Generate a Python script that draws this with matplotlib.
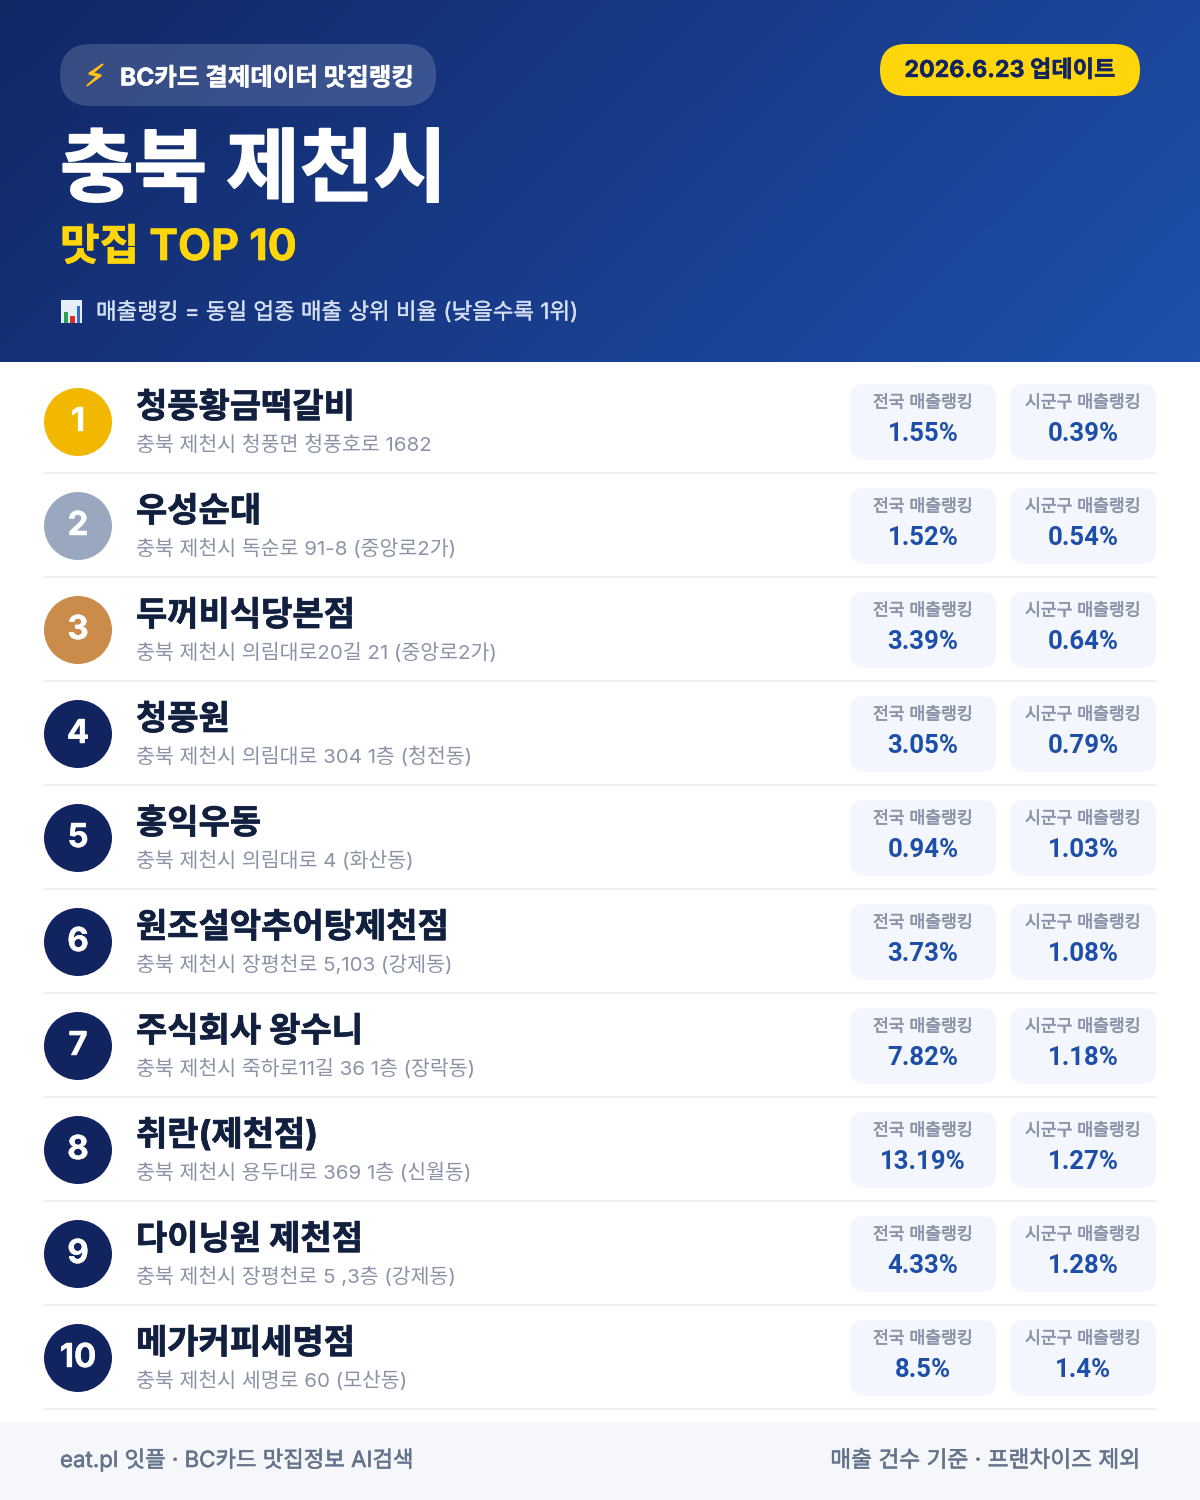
import numpy as np
import matplotlib
matplotlib.use("Agg")
import matplotlib.pyplot as plt
import matplotlib.patheffects as pe
from matplotlib.patches import Circle, FancyBboxPatch, Rectangle

# latin in Inter, hangul falls through to Noto
plt.rcParams['font.family'] = ['Inter', 'Noto Sans CJK KR', 'DejaVu Sans']

ranks = ["1", "2", "3", "4", "5", "6", "7", "8", "9", "10"]
names = ["청풍황금떡갈비", "우성순대", "두꺼비식당본점", "청풍원", "홍익우동",
         "원조설악추어탕제천점", "주식회사 왕수니", "취란(제천점)", "다이닝원 제천점", "메가커피세명점"]
addresses = ["충북 제천시 청풍면 청풍호로 1682",
             "충북 제천시 독순로 91-8 (중앙로2가)",
             "충북 제천시 의림대로20길 21 (중앙로2가)",
             "충북 제천시 의림대로 304 1층 (청전동)",
             "충북 제천시 의림대로 4 (화산동)",
             "충북 제천시 장평천로 5,103 (강제동)",
             "충북 제천시 죽하로11길 36 1층 (장락동)",
             "충북 제천시 용두대로 369 1층 (신월동)",
             "충북 제천시 장평천로 5 ,3층 (강제동)",
             "충북 제천시 세명로 60 (모산동)"]
national = ["1.55%", "1.52%", "3.39%", "3.05%", "0.94%", "3.73%", "7.82%", "13.19%", "4.33%", "8.5%"]
local = ["0.39%", "0.54%", "0.64%", "0.79%", "1.03%", "1.08%", "1.18%", "1.27%", "1.28%", "1.4%"]
circle_colors = ["#F2B800", "#9AA8BF", "#CB8B4B"] + ["#12245F"] * 7


def px(size):
    return size * 0.72


def fat(width, color):
    return [pe.withStroke(linewidth=width, foreground=color)]


fig = plt.figure(figsize=(12, 15), dpi=100)
ax = fig.add_axes([0, 0, 1, 1])
ax.set_xlim(0, 1200)
ax.set_ylim(1500, 0)
ax.axis("off")

# header gradient
xx, yy = np.meshgrid(np.linspace(0, 1, 300), np.linspace(0, 1, 90))
t = (xx * 1200 + yy * 362) / (1200 + 362)
c0 = np.array([0x12, 0x27, 0x66]) / 255
c1 = np.array([0x1E, 0x50, 0xAC]) / 255
img = c0[None, None, :] * (1 - t[..., None]) + c1[None, None, :] * t[..., None]
ax.imshow(img, extent=[0, 1200, 362, 0], aspect="auto", zorder=0)
ax.set_xlim(0, 1200)
ax.set_ylim(1500, 0)


def rbox(x0, y0, x1, y1, r, **kw):
    ax.add_patch(FancyBboxPatch((x0, y0), x1 - x0, y1 - y0,
                                boxstyle=f"round,pad=0,rounding_size={r}",
                                linewidth=0, **kw))


rbox(60, 44, 436, 106, 31, facecolor="white", alpha=0.16, zorder=1)
ax.text(95, 86, "⚡", fontsize=px(30), color="#FFC21A", ha="center", va="baseline",
        family="DejaVu Sans", zorder=3, path_effects=fat(0.8, "#FFC21A"))
ax.text(120, 85.5, "BC카드 결제데이터 맛집랭킹", fontsize=px(24.5), color="white",
        fontweight="bold", va="baseline", zorder=3, path_effects=fat(0.3, "white"))

rbox(880, 44, 1140, 96, 26, facecolor="#FFD60A", zorder=1)
ax.text(1010, 77, "2026.6.23 업데이트", fontsize=px(23.2), color="#12245F",
        fontweight="bold", ha="center", va="baseline", zorder=3, path_effects=fat(0.3, "#12245F"))

ax.text(60, 195, "충북 제천시", fontsize=px(80), color="white", fontweight="bold",
        va="baseline", zorder=3, path_effects=fat(1.2, "white"))
ax.text(60, 260, "맛집 TOP 10", fontsize=px(43), color="#FFD60A", fontweight="bold",
        va="baseline", zorder=3, path_effects=fat(0.5, "#FFD60A"))

# small bar chart icon
ax.add_patch(Rectangle((61, 300), 21, 23, facecolor="#E8EEF6", linewidth=0, zorder=2))
ax.add_patch(Rectangle((64, 312), 4, 11, facecolor="#2E9E4F", linewidth=0, zorder=3))
ax.add_patch(Rectangle((70, 316), 5, 7, facecolor="#D9302C", linewidth=0, zorder=3))
ax.add_patch(Rectangle((77, 306), 3, 17, facecolor="#2F6FC4", linewidth=0, zorder=3))
ax.text(96, 319, "매출랭킹 = 동일 업종 매출 상위 비율 (낮을수록 1위)", fontsize=px(22.4),
        color="#D3DEF0", va="baseline", zorder=3, path_effects=fat(0.25, "#D3DEF0"))

# rows
for i in range(len(names)):
    y = 104 * i
    ax.add_patch(Circle((78, 422 + y), 34, facecolor=circle_colors[i], linewidth=0, zorder=2))
    ax.text(78, 431 + y, ranks[i], fontsize=px(33), color="white", fontweight="bold",
            ha="center", va="baseline", zorder=3, path_effects=fat(0.3, "white"))
    ax.text(136, 417.5 + y, names[i], fontsize=px(34), color="#12203F", fontweight="bold",
            va="baseline", zorder=3, path_effects=fat(0.5, "#12203F"))
    ax.text(136, 451 + y, addresses[i], fontsize=px(20.55), color="#8A94A6",
            va="baseline", zorder=3)
    rbox(850, 384 + y, 996, 460 + y, 14, facecolor="#F3F6FC", zorder=1)
    rbox(1010, 384 + y, 1156, 460 + y, 14, facecolor="#F3F6FC", zorder=1)
    ax.text(923, 407.5 + y, "전국 매출랭킹", fontsize=px(17.2), color="#8A94A6",
            ha="center", va="baseline", zorder=3, path_effects=fat(0.4, "#8A94A6"))
    ax.text(1083, 407.5 + y, "시군구 매출랭킹", fontsize=px(17.2), color="#8A94A6",
            ha="center", va="baseline", zorder=3, path_effects=fat(0.4, "#8A94A6"))
    ax.text(923, 441.2 + y, national[i], fontsize=px(25.8), color="#1E4FA8", fontweight="bold",
            family="Roboto", ha="center", va="baseline", zorder=3)
    ax.text(1083, 441.2 + y, local[i], fontsize=px(25.8), color="#1E4FA8", fontweight="bold",
            family="Roboto", ha="center", va="baseline", zorder=3)
    ax.add_patch(Rectangle((44, 472 + y), 1112, 2, facecolor="#EEF0F4", linewidth=0, zorder=1))

# footer
ax.add_patch(Rectangle((0, 1422), 1200, 78, facecolor="#F5F7FB", linewidth=0, zorder=1))
ax.text(60, 1467, "eat.pl 잇플 · BC카드 맛집정보 AI검색", fontsize=px(22.3), color="#64748B",
        va="baseline", zorder=3, path_effects=fat(0.4, "#64748B"))
ax.text(1140, 1467, "매출 건수 기준 · 프랜차이즈 제외", fontsize=px(22.7), color="#64748B",
        ha="right", va="baseline", zorder=3, path_effects=fat(0.4, "#64748B"))

fig.savefig("out.png", dpi=100, facecolor="white")
